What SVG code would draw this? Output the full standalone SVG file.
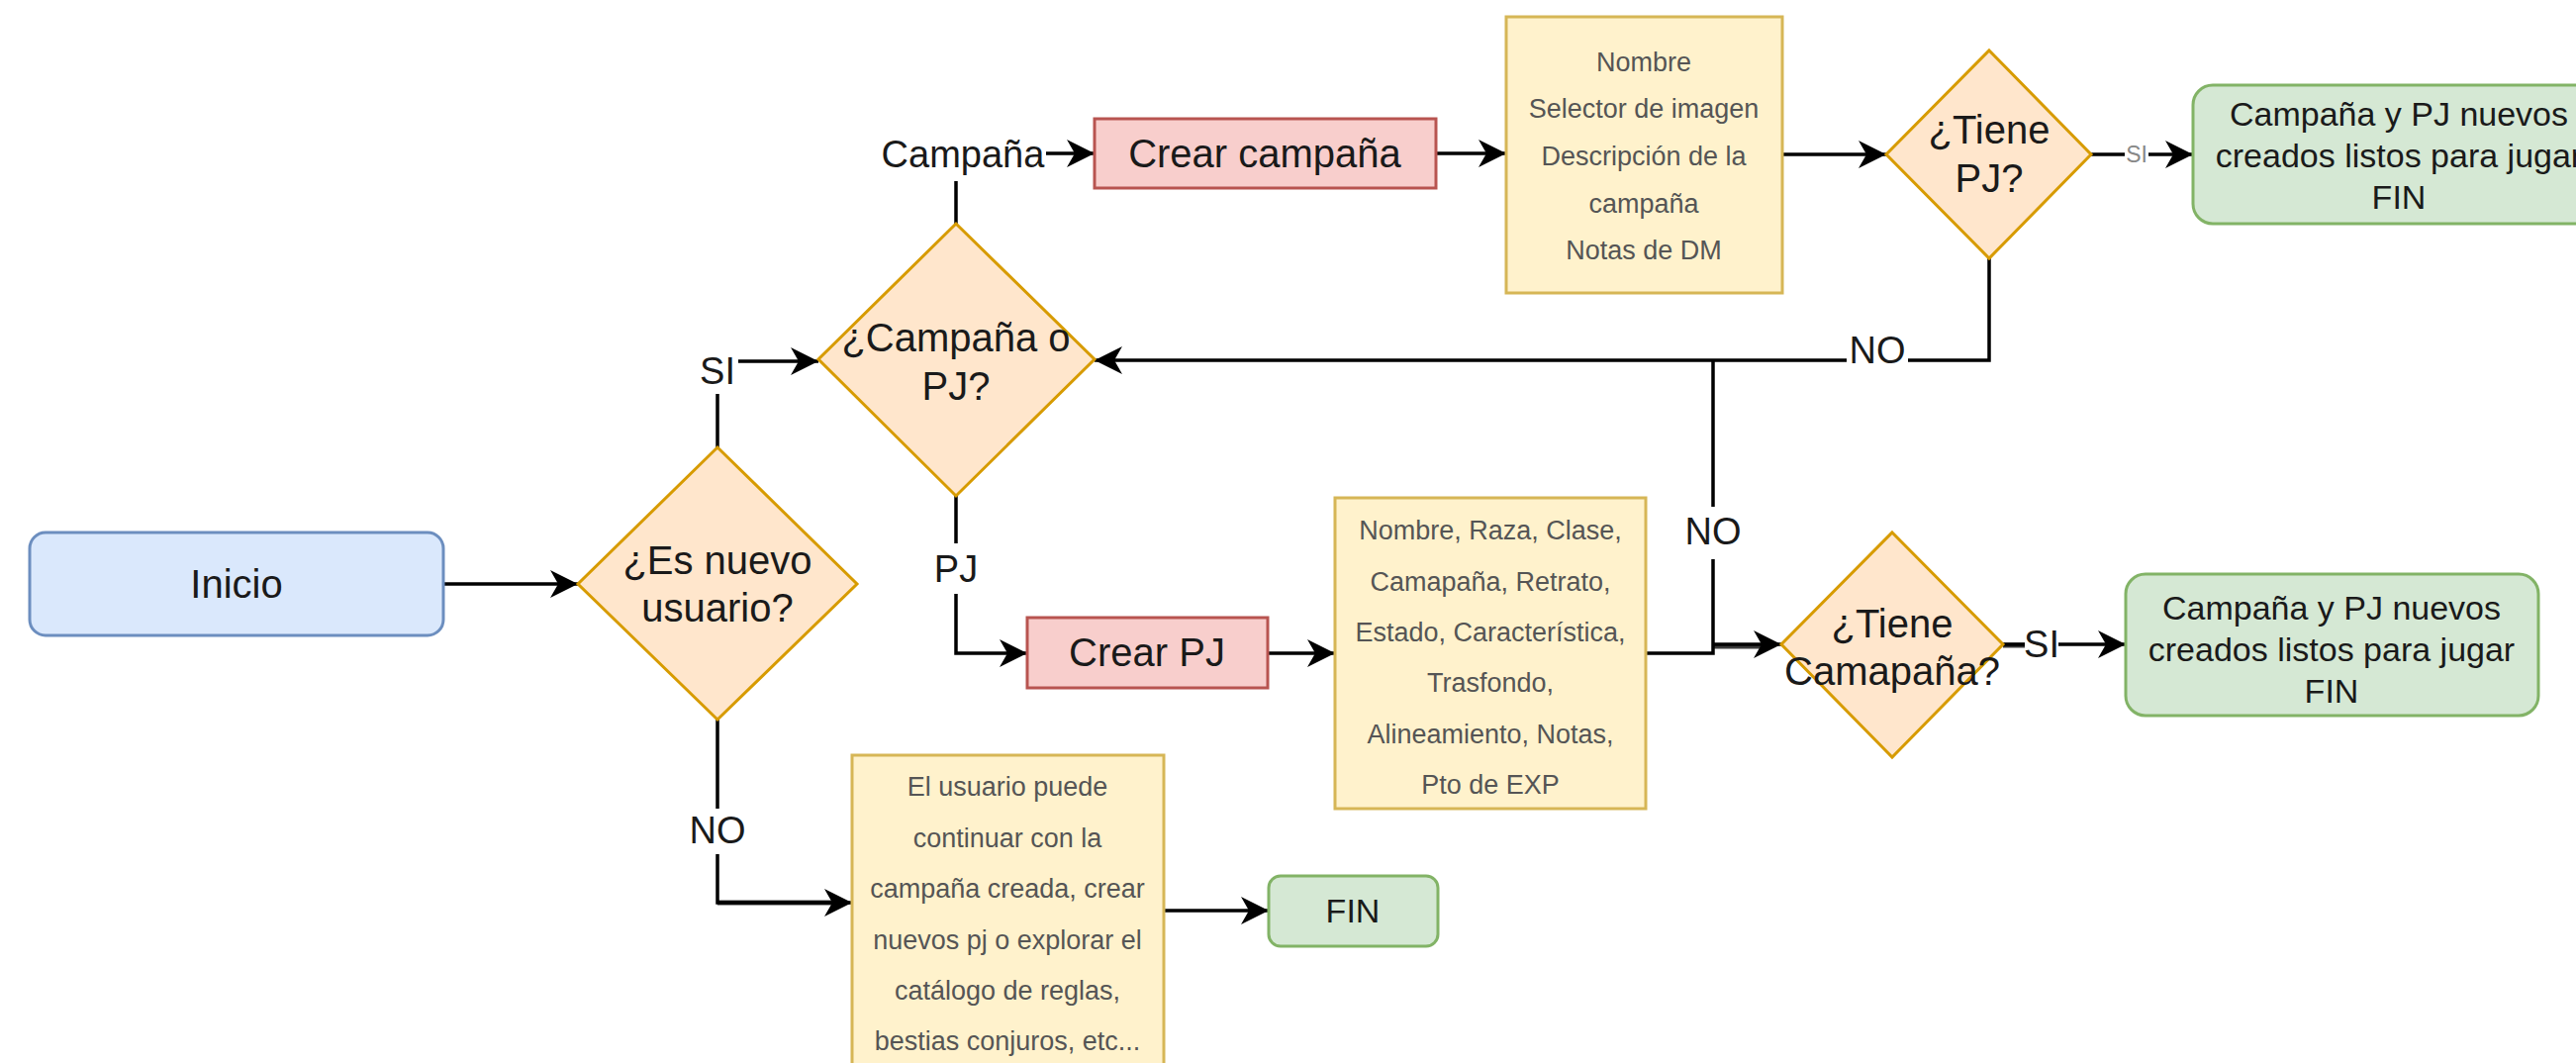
<svg xmlns="http://www.w3.org/2000/svg" width="2603" height="1074" viewBox="0 0 2603 1074">
  <style>
    .txt { font-family: "Liberation Sans", Arial, sans-serif; text-anchor: middle; fill: #1a1a1a; }
    .big { font-size: 40px; }
    .mid { font-size: 34px; }
    .lbl { font-size: 38px; }
    .small { font-size: 27px; fill: #555; }
    .tiny { font-size: 23px; fill: #888; }
    .blue { fill: #dae8fc; stroke: #6c8ebf; stroke-width: 3; }
    .dia { fill: #ffe6cc; stroke: #d79b00; stroke-width: 3; }
    .red { fill: #f8cecc; stroke: #b85450; stroke-width: 3; }
    .note { fill: #fff2cc; stroke: #d6b656; stroke-width: 3; }
    .green { fill: #d5e8d4; stroke: #82b366; stroke-width: 3; }
    .edge { fill: none; stroke: #000; stroke-width: 3.5; }
    .arrow { marker-end: url(#classic); }
    .heavy { fill: none; stroke: #3a3a3a; stroke-width: 5; }
    .bg { fill: #fff; }
  </style>
  <defs>
    <marker id="classic" markerUnits="userSpaceOnUse" markerWidth="30" markerHeight="30" refX="28" refY="14" orient="auto">
      <path d="M0,0 L28,14 L0,28 L8,14 Z" fill="#000"/>
    </marker>
  </defs>
  <rect width="2603" height="1074" fill="#fff"/>

  <!-- connectors -->
  <g id="connectors">
    <path class="edge arrow" d="M448,590 H584"/>
    <path class="edge arrow" d="M725,452 V365 H827"/>
    <path class="edge arrow" d="M966,226 V155 H1106"/>
    <path class="edge arrow" d="M966,501 V660 H1038"/>
    <path class="edge arrow" d="M1451,155 H1522"/>
    <path class="edge arrow" d="M1801,156 H1906"/>
    <path class="edge arrow" d="M2113,156 H2216"/>
    <path class="edge arrow" d="M2010,261 V364 H1106"/>
    <path class="edge" d="M1731,364 V651"/>
    <path class="heavy" d="M1731,653 H1785"/>
    <path class="edge arrow" d="M1731,651 H1800"/>
    <path class="edge arrow" d="M1281,660 H1349"/>
    <path class="edge" d="M1663,660 H1731 V651"/>
    <path class="heavy" d="M2024,652 H2046"/>
    <path class="edge arrow" d="M2024,651 H2148"/>
    <path class="heavy" d="M725,912 H845"/>
    <path class="edge arrow" d="M725,727 V912 H861"/>
    <path class="edge arrow" d="M1176,920 H1282"/>

    <!-- edge labels -->
    <rect class="bg" x="703" y="352" width="43" height="46"/>
    <text class="txt lbl" x="725" y="388">SI</text>
    <rect class="bg" x="889" y="137" width="168" height="46"/>
    <text class="txt lbl" x="973" y="169">Campaña</text>
    <rect class="bg" x="944" y="549" width="44" height="51"/>
    <text class="txt lbl" x="966" y="588">PJ</text>
    <rect class="bg" x="699" y="817" width="54" height="46"/>
    <text class="txt lbl" x="725" y="852">NO</text>
    <rect class="bg" x="1700" y="512" width="62" height="53"/>
    <text class="txt lbl" x="1731" y="550">NO</text>
    <rect class="bg" x="1866" y="333" width="62" height="37"/>
    <text class="txt lbl" x="1897" y="367">NO</text>
    <rect class="bg" x="2046" y="630" width="34" height="40"/>
    <text class="txt lbl" x="2063" y="664">SI</text>
    <rect class="bg" x="2147" y="145" width="24" height="22"/>
    <text class="txt tiny" x="2159" y="164">SI</text>
  </g>

  <!-- nodes -->
  <g id="inicio">
    <rect class="blue" x="30" y="538" width="418" height="104" rx="16"/>
    <text class="txt big" x="239" y="604">Inicio</text>
  </g>
  <g id="es-nuevo-usuario">
    <polygon class="dia" points="725,452 866,590 725,727 584,590"/>
    <text class="txt big" x="725" y="580">¿Es nuevo</text>
    <text class="txt big" x="725" y="628">usuario?</text>
  </g>
  <g id="campana-o-pj">
    <polygon class="dia" points="966,226 1106,363 966,501 827,363"/>
    <text class="txt big" x="966" y="355">¿Campaña o</text>
    <text class="txt big" x="966" y="404">PJ?</text>
  </g>
  <g id="crear-campana">
    <rect class="red" x="1106" y="120" width="345" height="70"/>
    <text class="txt big" x="1278" y="169">Crear campaña</text>
  </g>
  <g id="datos-campana">
    <rect class="note" x="1522" y="17" width="279" height="279"/>
    <text class="txt small" x="1661" y="72">Nombre</text>
    <text class="txt small" x="1661" y="119">Selector de imagen</text>
    <text class="txt small" x="1661" y="167">Descripción de la</text>
    <text class="txt small" x="1661" y="215">campaña</text>
    <text class="txt small" x="1661" y="262">Notas de DM</text>
  </g>
  <g id="tiene-pj">
    <polygon class="dia" points="2010,51 2113,156 2010,261 1906,156"/>
    <text class="txt big" x="2010" y="145">¿Tiene</text>
    <text class="txt big" x="2010" y="194">PJ?</text>
  </g>
  <g id="fin-campana">
    <rect class="green" x="2216" y="86" width="417" height="140" rx="20"/>
    <text class="txt mid" x="2424" y="127">Campaña y PJ nuevos</text>
    <text class="txt mid" x="2424" y="169">creados listos para jugar</text>
    <text class="txt mid" x="2424" y="211">FIN</text>
  </g>
  <g id="crear-pj">
    <rect class="red" x="1038" y="624" width="243" height="71"/>
    <text class="txt big" x="1159" y="673">Crear PJ</text>
  </g>
  <g id="datos-pj">
    <rect class="note" x="1349" y="503" width="314" height="314"/>
    <text class="txt small" x="1506" y="545">Nombre, Raza, Clase,</text>
    <text class="txt small" x="1506" y="597">Camapaña, Retrato,</text>
    <text class="txt small" x="1506" y="648">Estado, Característica,</text>
    <text class="txt small" x="1506" y="699">Trasfondo,</text>
    <text class="txt small" x="1506" y="751">Alineamiento, Notas,</text>
    <text class="txt small" x="1506" y="802">Pto de EXP</text>
  </g>
  <g id="tiene-campana">
    <polygon class="dia" points="1912,538 2024,651 1912,765 1800,651"/>
    <text class="txt big" x="1912" y="644">¿Tiene</text>
    <text class="txt big" x="1912" y="692">Camapaña?</text>
  </g>
  <g id="fin-pj">
    <rect class="green" x="2148" y="580" width="417" height="143" rx="20"/>
    <text class="txt mid" x="2356" y="626">Campaña y PJ nuevos</text>
    <text class="txt mid" x="2356" y="668">creados listos para jugar</text>
    <text class="txt mid" x="2356" y="710">FIN</text>
  </g>
  <g id="usuario-existente">
    <rect class="note" x="861" y="763" width="315" height="330"/>
    <text class="txt small" x="1018" y="804">El usuario puede</text>
    <text class="txt small" x="1018" y="856">continuar con la</text>
    <text class="txt small" x="1018" y="907">campaña creada, crear</text>
    <text class="txt small" x="1018" y="959">nuevos pj o explorar el</text>
    <text class="txt small" x="1018" y="1010">catálogo de reglas,</text>
    <text class="txt small" x="1018" y="1061">bestias conjuros, etc...</text>
  </g>
  <g id="fin">
    <rect class="green" x="1282" y="885" width="171" height="71" rx="12"/>
    <text class="txt mid" x="1367" y="932">FIN</text>
  </g>
</svg>
